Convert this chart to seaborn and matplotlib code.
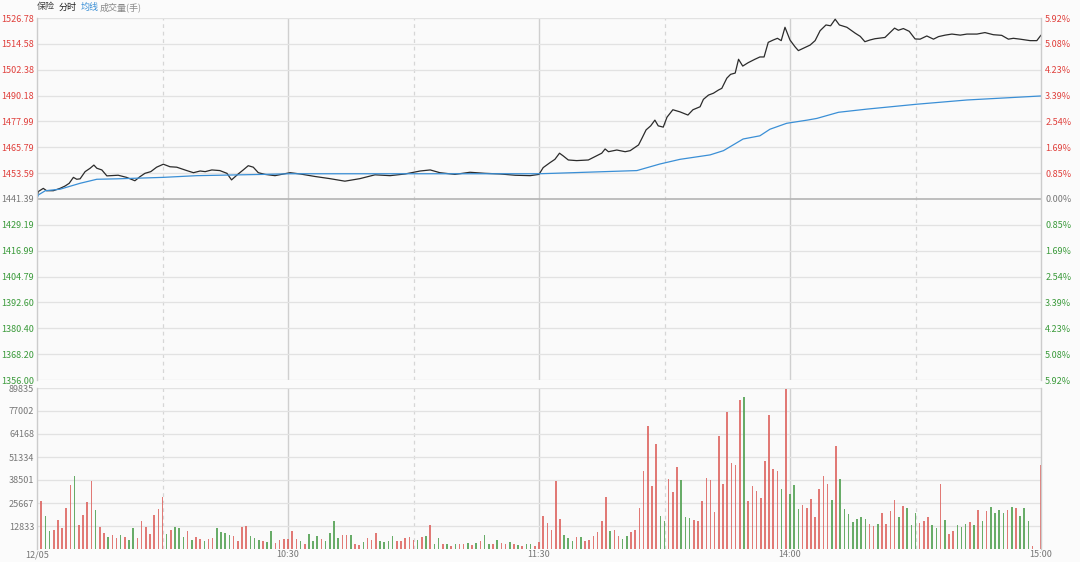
import matplotlib
matplotlib.use("Agg")
import matplotlib.pyplot as plt
import seaborn as sns
import numpy as np
import pandas as pd

# Datos del gráfico
# ==============================================================================
base = 1441.39

precio_min = [0, 0.3, 1.5, 2.3, 3.9, 5.5, 6.7, 7.7, 8.7, 9.5, 10.3, 11.5, 12.7, 13.6, 14.3, 15.5,
              16.7, 19.4, 21.4, 23.4, 24.6, 25.8, 27.2, 28.6, 30.2, 31.8, 33.4, 35.8, 37.4, 39.0,
              40.2, 41.8, 43.7, 45.4, 46.5, 48.1, 49.3, 50.5, 51.7, 52.9, 54.5, 56.9, 58.9, 60.5,
              62.9, 66.5, 70.0, 73.6, 77.2, 80.8, 84.4, 88.0, 91.6, 94.0, 96.3, 99.9, 103.5,
              107.1, 110.7, 114.3, 117.9, 120.0, 121.0, 122.6, 123.8, 124.9, 125.8, 127.0,
              129.0, 131.8, 133.4, 135.0, 135.8, 136.6, 138.6, 140.6, 141.8, 143.8, 144.6,
              145.6, 146.7, 147.7, 148.5, 149.7, 150.6, 152.0, 153.7, 155.6, 156.8, 158.5,
              159.3, 160.5, 161.7, 162.9, 163.7, 164.9, 165.8, 166.9, 167.7, 168.7, 170.0,
              171.6, 172.8, 173.8, 174.8, 176.0, 177.0, 177.9, 178.8, 180.0, 181.2, 182.0,
              183.2, 184.8, 186.0, 187.2, 188.6, 189.7, 190.8, 191.8, 193.6, 195.6, 196.8,
              197.9, 199.1, 200.3, 202.7, 203.9, 205.0, 205.9, 207.1, 208.5, 209.9, 211.1,
              212.7, 214.3, 215.5, 217.1, 218.7, 220.7, 222.3, 224.7, 226.6, 228.6, 230.6,
              232.2, 233.4, 235.0, 237.4, 239.0, 240.0]
precio = [1441.4, 1444.9, 1446.4, 1445.3, 1445.3, 1446.4, 1447.5, 1448.8, 1451.6, 1450.7, 1450.9,
          1454.3, 1455.9, 1457.4, 1455.9, 1455.1, 1452.3, 1452.6, 1451.6, 1450.0, 1451.9, 1453.5,
          1454.3, 1456.4, 1457.8, 1456.6, 1456.4, 1454.8, 1453.8, 1454.6, 1454.3, 1455.1, 1454.8,
          1453.5, 1450.4, 1453.2, 1455.1, 1457.1, 1456.4, 1453.8, 1453.0, 1452.4, 1453.2, 1453.8,
          1453.2, 1452.0, 1451.0, 1449.8, 1451.0, 1452.8, 1452.4, 1453.2, 1454.6, 1455.1, 1453.8,
          1453.0, 1454.0, 1453.5, 1453.2, 1452.6, 1452.4, 1453.0, 1456.2, 1458.5, 1460.1, 1463.0,
          1461.7, 1459.8, 1459.5, 1459.8, 1461.4, 1463.0, 1465.0, 1463.7, 1464.5, 1463.7, 1464.2,
          1466.9, 1470.0, 1474.0, 1475.9, 1478.6, 1475.9, 1475.3, 1480.0, 1483.5, 1482.5, 1481.0,
          1483.5, 1484.9, 1488.4, 1490.4, 1491.3, 1492.8, 1493.6, 1498.4, 1500.2, 1500.8, 1507.3,
          1504.1, 1505.7, 1507.3, 1508.4, 1508.4, 1515.3, 1516.4, 1517.2, 1516.1, 1522.4, 1516.4,
          1513.2, 1511.4, 1512.5, 1514.0, 1516.1, 1520.8, 1523.5, 1523.1, 1526.2, 1523.5, 1522.4,
          1519.6, 1518.1, 1515.6, 1516.4, 1517.0, 1517.6, 1519.9, 1522.0, 1521.0, 1521.8, 1520.5,
          1516.9, 1516.8, 1518.3, 1516.8, 1518.0, 1518.7, 1519.2, 1518.7, 1519.2, 1519.2, 1519.9,
          1518.9, 1518.6, 1516.8, 1517.2, 1516.8, 1516.1, 1516.1, 1518.7]

media_min = [0, 0.3, 2.0, 5.5, 10.3, 14.3, 19.0, 30.2, 38.2, 54.1, 60.5, 120.0, 123.4, 143.4,
             148.9, 153.7, 160.9, 164.1, 168.8, 172.8, 175.2, 179.2, 184.1, 186.4, 191.6, 198.4,
             210.3, 222.3, 240.0]
media = [1441.4, 1443.3, 1445.3, 1446.0, 1448.8, 1450.7, 1450.9, 1451.6, 1452.4, 1453.0, 1453.3,
         1453.3, 1453.5, 1454.8, 1457.9, 1460.1, 1462.2, 1464.2, 1469.7, 1471.2, 1474.3, 1477.1,
         1478.6, 1479.4, 1482.3, 1483.8, 1486.1, 1488.1, 1490.0]

# Volumen por minuto (miles de manos), 241 barras
vol_k = [20.7, 26.6, 18.3, 10.0, 10.5, 16.3, 11.8, 22.6, 35.5, 40.8,
         13.3, 18.9, 26.1, 37.7, 21.5, 12.4, 8.7, 6.9, 7.8, 5.9,
         7.8, 6.9, 5.0, 11.5, 5.9, 15.5, 12.0, 8.3, 19.2, 22.2,
         28.8, 8.2, 10.5, 12.2, 11.8, 6.9, 10.2, 4.8, 6.9, 5.8,
         4.5, 5.8, 5.9, 11.7, 9.4, 8.9, 8.0, 7.2, 4.6, 12.4,
         13.0, 7.2, 6.1, 5.2, 4.6, 3.9, 10.0, 3.4, 5.0, 5.4,
         5.4, 10.2, 5.6, 4.5, 2.8, 8.2, 4.6, 7.2, 5.6, 4.6,
         8.9, 15.7, 6.3, 7.8, 7.8, 7.8, 3.0, 2.4, 3.9, 6.3,
         5.2, 8.9, 4.5, 4.1, 4.3, 7.0, 4.5, 4.5, 5.9, 6.9,
         5.2, 5.2, 6.5, 7.2, 13.3, 3.0, 6.1, 3.0, 2.6, 1.9,
         2.6, 2.6, 2.8, 3.4, 2.2, 3.4, 4.6, 7.6, 2.8, 3.0,
         5.0, 3.4, 2.8, 3.7, 2.8, 2.0, 1.7, 2.8, 2.8, 1.9, 4.1,
         18.3, 14.6, 10.7, 37.7, 16.6, 8.0, 6.1, 4.6, 6.7, 6.9,
         4.6, 5.0, 7.0, 9.6, 15.4, 29.0, 10.2, 10.5, 7.0, 5.8,
         7.2, 9.4, 10.4, 22.6, 43.8, 68.4, 35.1, 58.6, 18.5, 15.5,
         39.2, 31.8, 45.5, 38.4, 17.8, 17.2, 16.1, 15.7, 26.8, 39.4,
         38.6, 20.5, 62.8, 36.0, 76.5, 47.9, 47.1, 83.0, 84.8, 26.8,
         34.9, 32.3, 28.7, 49.2, 74.8, 44.9, 43.8, 33.3, 89.4, 30.5,
         35.5, 22.2, 24.6, 22.7, 28.1, 17.8, 33.3, 40.5, 36.4, 27.5,
         57.7, 39.2, 22.2, 19.6, 15.2, 16.6, 18.1, 16.6, 14.2, 12.8,
         13.9, 20.0, 14.2, 21.3, 27.2, 17.8, 23.9, 22.7, 13.3, 20.2,
         14.6, 15.5, 18.1, 13.3, 11.8, 36.0, 16.1, 8.5, 10.2, 13.3,
         12.2, 13.9, 15.2, 13.3, 21.6, 15.4, 21.1, 23.5, 20.2, 21.5,
         20.2, 21.6, 23.5, 22.7, 18.3, 22.7, 15.4, 1.7, 0.0, 47.1]
# r = sube, g = baja
direccion = ("rrggrrrrrg" "rrrrgrrgrr" "grggrrrrrr" "rgrgggrgrr" "grrggggrrr" "rgggrggrrr"
             "rrrgrgggrg" "gggrrgrrgr" "rrggggrrrr" "rgrgrggrgr" "grrgrgrggr" "grrgrgrggrr"
             "rrrrrgggrg" "rrrrrrgrrg" "grrrrrrrgg" "rrrgggrrrr" "rrrrrrrrgr" "rrrrrrrgrg"
             "ggrrrrrrrg" "rgggggggrr" "grrrrgrggg" "rrrggrgrrg" "ggrgrgrggg" "grgrgggrrr")
assert len(vol_k) == 241 and len(direccion) == 241

ticks_precio = [1526.78, 1514.58, 1502.38, 1490.18, 1477.99, 1465.79, 1453.59, 1441.39,
                1429.19, 1416.99, 1404.79, 1392.60, 1380.40, 1368.20, 1356.00]
ticks_pct = ["5.92%", "5.08%", "4.23%", "3.39%", "2.54%", "1.69%", "0.85%", "0.00%",
             "0.85%", "1.69%", "2.54%", "3.39%", "4.23%", "5.08%", "5.92%"]
ticks_vol = [12833, 25667, 38501, 51334, 64168, 77002, 89835]
ticks_tiempo = [0, 60, 120, 180, 240]
etiquetas_tiempo = ["12/05", "10:30", "11:30", "14:00", "15:00"]

# Estilo
# ==============================================================================
sns.set_theme(style="white")
plt.rcParams['font.family'] = ['Noto Sans CJK SC', 'DejaVu Sans']

ROJO = "#e0403c"
VERDE = "#3a9a3a"
GRIS = "#777777"
FS = 6.5

fig = plt.figure(figsize=(10.8, 5.62), dpi=100, facecolor="#fbfbfb")
ax1 = fig.add_axes([37/1080, 1-380/562, 1004/1080, 362/562])
ax2 = fig.add_axes([37/1080, 1-549/562, 1004/1080, 161/562])

for ax in (ax1, ax2):
    ax.set_facecolor("#fafafa")
    ax.set_xlim(0, 240)
    for s in ("top", "bottom"):
        ax.spines[s].set_visible(False)
    for s in ("left", "right"):
        ax.spines[s].set_color("#cccccc")
        ax.spines[s].set_linewidth(1)
    for m in (30, 90, 150, 210):
        ax.axvline(m, color="#d6d6d6", lw=0.9, ls=(0, (3, 3)), zorder=0)
    for m in (60, 120, 180):
        ax.axvline(m, color="#cfcfcf", lw=1, zorder=0)

# Panel de precio
# ==============================================================================
ax1.set_ylim(ticks_precio[-1], ticks_precio[0])
for t in ticks_precio:
    if t == base:
        ax1.axhline(t, color="#b4b4b4", lw=1.2, zorder=0)
    else:
        ax1.axhline(t, color="#e2e2e2", lw=0.9, zorder=0)

df_p = pd.DataFrame({"min": precio_min, "precio": precio})
df_m = pd.DataFrame({"min": media_min, "media": media})
sns.lineplot(data=df_p, x="min", y="precio", ax=ax1, color="#2b2b2b", lw=0.9, sort=False)
sns.lineplot(data=df_m, x="min", y="media", ax=ax1, color="#3a8fd6", lw=0.9, sort=False)

ax1.set_xticks([])
ax1.set_xlabel("")
ax1.set_ylabel("")
ax1.set_yticks(ticks_precio)
ax1.set_yticklabels([f"{t:.2f}" for t in ticks_precio])
ax1.tick_params(axis="y", length=0, pad=2, labelsize=FS)
for lab, t in zip(ax1.get_yticklabels(), ticks_precio):
    lab.set_color(ROJO if t > base else (GRIS if t == base else VERDE))

ax1r = ax1.twinx()
ax1r.set_ylim(ax1.get_ylim())
ax1r.set_yticks(ticks_precio)
ax1r.set_yticklabels(ticks_pct)
ax1r.tick_params(axis="y", length=0, pad=3, labelsize=FS)
for s in ax1r.spines.values():
    s.set_visible(False)
for lab, t in zip(ax1r.get_yticklabels(), ticks_precio):
    lab.set_color(ROJO if t > base else (GRIS if t == base else VERDE))

# Panel de volumen
# ==============================================================================
vol = np.array(vol_k) * 1000
colores = ["#dd625e" if d == "r" else "#4f9f4f" for d in direccion]
ax2.set_ylim(0, 89835)
for t in ticks_vol:
    ax2.axhline(t, color="#e2e2e2", lw=0.9, zorder=0)
ax2.bar(np.arange(241), vol, width=0.38, color=colores, linewidth=0, alpha=0.85, zorder=2)
ax2.set_yticks(ticks_vol)
ax2.set_yticklabels([str(t) for t in ticks_vol])
ax2.tick_params(axis="y", length=0, pad=2, labelsize=FS, labelcolor=GRIS)
ax2.set_xticks(ticks_tiempo)
ax2.set_xticklabels(etiquetas_tiempo)
ax2.tick_params(axis="x", length=0, pad=1, labelsize=FS, labelcolor=GRIS)

# Cabecera
# ==============================================================================
cab = [("保险", 37, "#444444"), ("分时", 59, "#222222"), ("均线", 81, "#3a8fd6"),
       ("成交量(手)", 100, "#888888")]
for txt, px, col in cab:
    fig.text(px/1080, 1-7/562, txt, color=col, fontsize=FS, va="center", ha="left")

fig.savefig("out.png", dpi=100, facecolor=fig.get_facecolor())
